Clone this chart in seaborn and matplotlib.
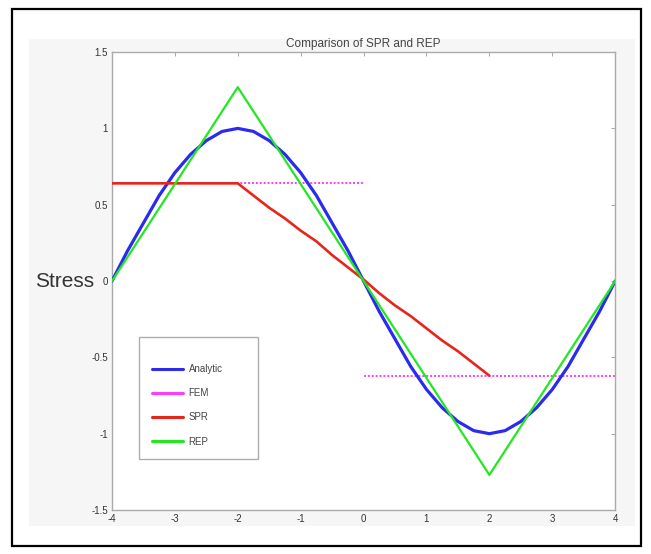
import numpy as np
import pandas as pd
import seaborn as sns
import matplotlib.pyplot as plt
from matplotlib.patches import Rectangle

# values
analytic_x = [-4, -3.75, -3.5, -3.25, -3, -2.75, -2.5, -2.25, -2, -1.75, -1.5, -1.25, -1,
              -0.75, -0.5, -0.25, 0, 0.25, 0.5, 0.75, 1, 1.25, 1.5, 1.75, 2, 2.25, 2.5,
              2.75, 3, 3.25, 3.5, 3.75, 4]
analytic_y = [0, 0.2, 0.38, 0.56, 0.71, 0.83, 0.92, 0.98, 1.0, 0.98, 0.92, 0.83, 0.71,
              0.56, 0.38, 0.2, 0, -0.2, -0.38, -0.56, -0.71, -0.83, -0.92, -0.98, -1.0,
              -0.98, -0.92, -0.83, -0.71, -0.56, -0.38, -0.2, 0]

fem_x = [-4, 0, 0, 4]
fem_y = [0.64, 0.64, -0.62, -0.62]
fem_seg = [0, 0, 1, 1]

spr_x = [-4, -2, -1.75, -1.5, -1.25, -1, -0.75, -0.5, -0.25, 0, 0.25, 0.5, 0.75, 1,
         1.25, 1.5, 1.75, 2]
spr_y = [0.64, 0.64, 0.56, 0.48, 0.41, 0.33, 0.26, 0.17, 0.09, 0.01, -0.08, -0.16,
         -0.23, -0.31, -0.39, -0.46, -0.54, -0.62]

rep_x = [-4, -2, 2, 4]
rep_y = [0, 1.27, -1.27, 0]

labels = ['Analytic', 'FEM', 'SPR', 'REP']
colors = ['#2b2bf0', '#ff3cff', '#e8251b', '#22e822']

sns.set_style('white')
plt.rcParams['font.family'] = ['Liberation Sans', 'DejaVu Sans']
plt.rcParams['axes.unicode_minus'] = False

fig = plt.figure(figsize=(6.51, 5.54), dpi=100)
ax = fig.add_axes([0.172, 0.0794, 0.773, 0.8266])

# light figure background and outer black frame
fig.patches.append(Rectangle((0.045, 0.05), 0.93, 0.88, transform=fig.transFigure,
                             facecolor='#f6f6f6', edgecolor='none', zorder=-10))
fig.patches.append(Rectangle((0.019, 0.014), 0.966, 0.97, transform=fig.transFigure,
                             facecolor='none', edgecolor='black', linewidth=1.6, zorder=10))

fem = pd.DataFrame({'x': fem_x, 'y': fem_y, 'seg': fem_seg})
sns.lineplot(data=fem, x='x', y='y', units='seg', estimator=None, ax=ax,
             color=colors[1], linestyle=(0, (1, 1)), linewidth=1.4, zorder=2)
sns.lineplot(x=analytic_x, y=analytic_y, ax=ax, color=colors[0], linewidth=2.3, zorder=3)
sns.lineplot(x=spr_x, y=spr_y, ax=ax, color=colors[2], linewidth=1.9, zorder=4)
sns.lineplot(x=rep_x, y=rep_y, ax=ax, color=colors[3], linewidth=1.6, zorder=5)

ax.set_facecolor('white')
ax.set_xlim(-4, 4)
ax.set_ylim(-1.5, 1.5)
ax.set_xticks(range(-4, 5))
ax.set_yticks([-1.5, -1, -0.5, 0, 0.5, 1, 1.5])
ax.set_yticklabels(['-1.5', '-1', '-0.5', '0', '0.5', '1', '1.5'])
ax.tick_params(direction='in', length=3, width=0.6, color='#999999', labelsize=7,
               labelcolor='#333333', top=True, right=True, pad=3)
for s in ax.spines.values():
    s.set_color('#aaaaaa')
    s.set_linewidth(1.0)

ax.set_title('Comparison of SPR and REP', fontsize=8.5, color='#444444', pad=4)
ax.set_xlabel('')
ax.set_ylabel('Stress', rotation=0, fontsize=15, color='#333333', ha='right', va='center')
ax.yaxis.set_label_coords(-0.036, 0.5)

handles = [plt.Line2D([], [], color=c, linewidth=2.2) for c in colors]
leg = ax.legend(handles, labels, loc='lower left', bbox_to_anchor=(0.054, 0.111, 0.237, 0.266),
                mode='expand', fontsize=7, title=' ', title_fontsize=1, frameon=True,
                fancybox=False, borderpad=1.3, labelspacing=1.45, handlelength=3.2,
                handletextpad=0.6, borderaxespad=0)
leg.get_frame().set_edgecolor('#999999')
leg.get_frame().set_linewidth(1.0)
for t in leg.get_texts():
    t.set_color('#444444')

fig.savefig('out.png', dpi=100)
